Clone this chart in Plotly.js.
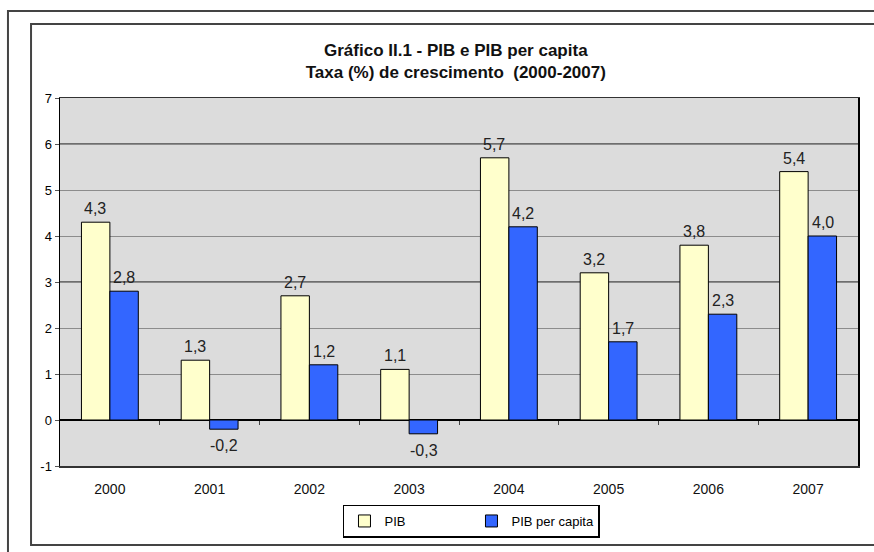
<!DOCTYPE html>
<html>
<head>
<meta charset="utf-8">
<script src="https://cdn.plot.ly/plotly-3.0.1.min.js"></script>
<style>
html,body{margin:0;padding:0;background:#fff;}
#chart{width:874px;height:552px;}
</style>
</head>
<body>
<div id="chart"></div>
<script>
var years = ["2000","2001","2002","2003","2004","2005","2006","2007"];
var pib = [4.3, 1.3, 2.7, 1.1, 5.7, 3.2, 3.8, 5.4];
var pibPerCapita = [2.8, -0.2, 1.2, -0.3, 4.2, 1.7, 2.3, 4.0];
var seriesNames = ["PIB", "PIB per capita"];
var yTicks = [-1, 0, 1, 2, 3, 4, 5, 6, 7];
var yTickLabels = ["-1", "0", "1", "2", "3", "4", "5", "6", "7"];
var darkGridValues = [6, 3];

var font = "Liberation Sans, Arial, sans-serif";

function fmt(v){ return v.toFixed(1).replace(".", ","); }

var traces = [
  {
    type: "bar", name: seriesNames[0], x: years, y: pib,
    marker: {color: "#FFFFCC", line: {color: "#000", width: 1}},
    hoverinfo: "skip"
  },
  {
    type: "bar", name: seriesNames[1], x: years, y: pibPerCapita,
    marker: {color: "#3366FF", line: {color: "#000", width: 1}},
    hoverinfo: "skip"
  },
  {
    type: "scatter", x: [], y: [], xaxis: "x2", yaxis: "y", showlegend: false, hoverinfo: "skip"
  }
];

// value labels, placed through the axes at each bar's value (x = category index)
var annotations = [];
function addLabels(values, shift){
  values.forEach(function(v, i){
    annotations.push({
      x: i, y: v, xref: "x", yref: "y",
      text: fmt(v), showarrow: false,
      xshift: shift,
      yanchor: v >= 0 ? "bottom" : "top",
      yshift: v >= 0 ? 3 : -6,
      font: {family: font, size: 16, color: "#222"}
    });
  });
}
addLabels(pib, -14.5);
addLabels(pibPerCapita, 14.5);

var shapes = darkGridValues.map(function(v){
  return {type: "line", xref: "paper", x0: 0, x1: 1, yref: "y", y0: v, y1: v,
          line: {color: "#000", width: 1}, layer: "below"};
});
// outer frames
shapes.push({type: "rect", xref: "paper", yref: "paper", x0: -0.0652, x1: 1.05, y0: -0.3, y1: 1.2364,
  line: {color: "#444", width: 2}, fillcolor: "rgba(0,0,0,0)", layer: "above"});
shapes.push({type: "rect", xref: "paper", yref: "paper", x0: -0.0363, x1: 1.05, y0: -0.2147, y1: 1.2011,
  line: {color: "#444", width: 2}, fillcolor: "rgba(0,0,0,0)", layer: "above"});

var layout = {
  width: 874, height: 552,
  margin: {l: 60, r: 16, t: 98, b: 86, autoexpand: false},
  paper_bgcolor: "#fff",
  plot_bgcolor: "#DCDCDC",
  separators: ",.",
  font: {family: font, size: 13, color: "#000"},
  title: {
    text: "Gráfico II.1 - PIB e PIB per capita<br>Taxa (%) de crescimento  (2000-2007)",
    font: {family: font, size: 17, color: "#111", weight: "bold"},
    x: 0.496, xref: "paper", xanchor: "center", y: 0.899, yanchor: "middle", yref: "container"
  },
  barmode: "group",
  bargap: 0.43,
  bargroupgap: 0,
  xaxis: {
    type: "category", range: [-0.5, 7.5], autorange: false,
    showgrid: false, zeroline: false,
    showline: true, linecolor: "#333", linewidth: 1.5, mirror: true,
    ticks: "outside", ticklen: 10, tickcolor: "rgba(0,0,0,0)",
    tickfont: {family: font, size: 14, color: "#111"}
  },
  xaxis2: {
    overlaying: "x", anchor: "free", position: 0.125,
    range: [-0.5, 7.5], tickvals: [0.5, 1.5, 2.5, 3.5, 4.5, 5.5, 6.5],
    showticklabels: false, ticks: "outside", ticklen: 4, tickcolor: "#444",
    showgrid: false, zeroline: false, showline: false
  },
  yaxis: {
    range: [-1, 7], autorange: false, tickmode: "array", tickvals: yTicks, ticktext: yTickLabels,
    gridcolor: "#8C8C8C", gridwidth: 1,
    zeroline: true, zerolinecolor: "#000", zerolinewidth: 1.5,
    showline: true, linecolor: "#000", linewidth: 1.5, mirror: true,
    ticks: "outside", ticklen: 4, tickcolor: "#555",
    tickfont: {family: font, size: 13, color: "#000"}
  },
  legend: {
    orientation: "h", x: 0.3546, xanchor: "left", y: -0.1495, yanchor: "middle",
    bgcolor: "#fff", bordercolor: "#000", borderwidth: 1.5,
    font: {family: font, size: 13, color: "#000"},
    itemwidth: 30, traceorder: "normal",
    entrywidthmode: "pixels", entrywidth: 82
  },
  annotations: annotations,
  shapes: shapes,
  showlegend: true
};

Plotly.newPlot("chart", traces, layout, {displayModeBar: false, staticPlot: true});
</script>
</body>
</html>
